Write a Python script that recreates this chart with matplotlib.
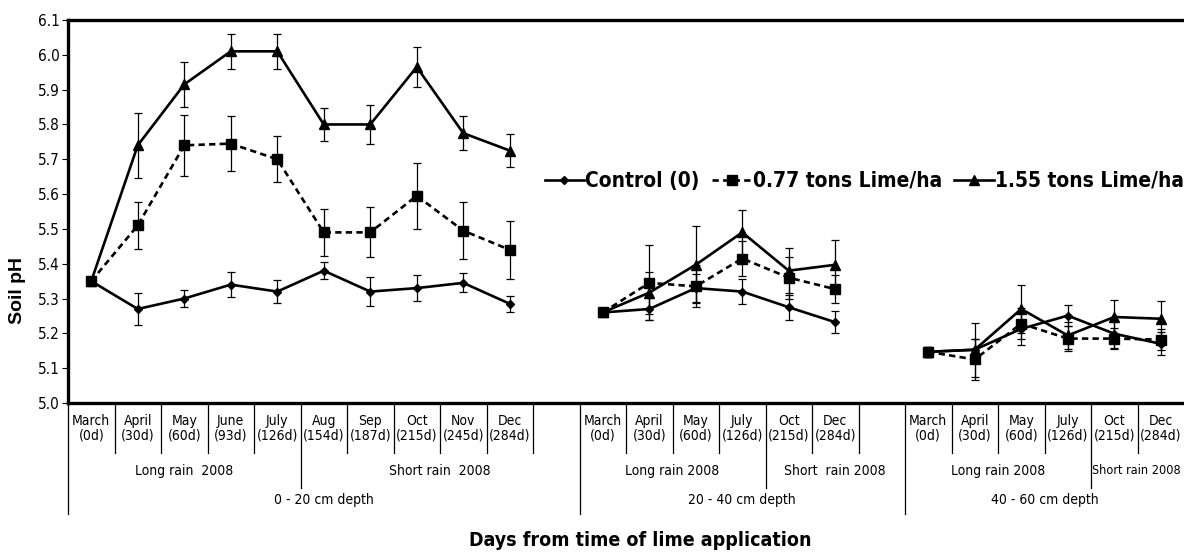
import numpy as np
import matplotlib
matplotlib.use("Agg")
import matplotlib.pyplot as plt
from matplotlib.transforms import blended_transform_factory

narrow = ['DejaVu Sans']
plt.rcParams['font.family'] = narrow
plt.rcParams['font.stretch'] = 'condensed'

# ---- data ----
months_0_20 = ["March\n(0d)", "April\n(30d)", "May\n(60d)", "June\n(93d)", "July\n(126d)",
               "Aug\n(154d)", "Sep\n(187d)", "Oct\n(215d)", "Nov\n(245d)", "Dec\n(284d)"]
months_short = ["March\n(0d)", "April\n(30d)", "May\n(60d)", "July\n(126d)", "Oct\n(215d)", "Dec\n(284d)"]

control_0_20 = [5.35, 5.27, 5.30, 5.34, 5.32, 5.38, 5.32, 5.33, 5.345, 5.285]
control_0_20_err = [0.01, 0.045, 0.025, 0.035, 0.033, 0.025, 0.042, 0.038, 0.027, 0.023]
lime077_0_20 = [5.35, 5.51, 5.74, 5.745, 5.70, 5.49, 5.49, 5.595, 5.495, 5.44]
lime077_0_20_err = [0.01, 0.068, 0.088, 0.08, 0.066, 0.068, 0.072, 0.095, 0.082, 0.083]
lime155_0_20 = [5.35, 5.74, 5.915, 6.01, 6.01, 5.80, 5.80, 5.965, 5.775, 5.725]
lime155_0_20_err = [0.01, 0.093, 0.065, 0.05, 0.05, 0.048, 0.055, 0.058, 0.048, 0.048]

control_20_40 = [5.26, 5.27, 5.33, 5.32, 5.275, 5.232]
control_20_40_err = [0.01, 0.033, 0.04, 0.037, 0.036, 0.032]
lime077_20_40 = [5.26, 5.345, 5.335, 5.415, 5.36, 5.327]
lime077_20_40_err = [0.01, 0.108, 0.06, 0.05, 0.06, 0.04]
lime155_20_40 = [5.26, 5.317, 5.397, 5.49, 5.38, 5.397]
lime155_20_40_err = [0.01, 0.06, 0.11, 0.065, 0.065, 0.07]

control_40_60 = [5.147, 5.153, 5.213, 5.251, 5.199, 5.17]
control_40_60_err = [0.015, 0.03, 0.045, 0.03, 0.04, 0.033]
lime077_40_60 = [5.147, 5.125, 5.228, 5.185, 5.185, 5.182]
lime077_40_60_err = [0.015, 0.06, 0.045, 0.035, 0.03, 0.03]
lime155_40_60 = [5.147, 5.153, 5.27, 5.194, 5.247, 5.242]
lime155_40_60_err = [0.015, 0.078, 0.07, 0.04, 0.05, 0.05]

depth_labels = ["0 - 20 cm depth", "20 - 40 cm depth", "40 - 60 cm depth"]
rain_labels = ["Long rain  2008", "Short rain  2008", "Long rain 2008", "Short  rain 2008",
               "Long rain 2008", "Short rain 2008"]

# slot layout: 11 slots + 7 slots + 6 slots
x_0_20 = np.arange(10) + 0.5
x_20_40 = np.arange(11, 17) + 0.5
x_40_60 = np.arange(18, 24) + 0.5

W, H = 1184, 553
fig = plt.figure(figsize=(W / 100, H / 100), dpi=100)
ax = fig.add_axes([68 / W, 1 - 403 / H, 1 - 68 / W, (403 - 20) / H])

styles = [
    ("Control (0)", dict(marker='D', markersize=4.5, linestyle='-')),
    ("0.77 tons Lime/ha", dict(marker='s', markersize=6.8, linestyle=(0, (2.4, 1.6)))),
    ("1.55 tons Lime/ha", dict(marker='^', markersize=6.8, linestyle='-')),
]
panels = [
    (x_0_20, [control_0_20, lime077_0_20, lime155_0_20],
     [control_0_20_err, lime077_0_20_err, lime155_0_20_err]),
    (x_20_40, [control_20_40, lime077_20_40, lime155_20_40],
     [control_20_40_err, lime077_20_40_err, lime155_20_40_err]),
    (x_40_60, [control_40_60, lime077_40_60, lime155_40_60],
     [control_40_60_err, lime077_40_60_err, lime155_40_60_err]),
]

for p, (xs, ys, errs) in enumerate(panels):
    for (name, st), y, e in zip(styles, ys, errs):
        ax.errorbar(xs, y, yerr=e, fmt='none', ecolor='black', elinewidth=0.9,
                    capsize=3.2, capthick=0.9, zorder=2)
        ax.plot(xs, y, color='black', lw=1.9, zorder=3,
                label=name if p == 0 else None, **st)

ax.set_xlim(0, 24)
ax.set_ylim(5.0, 6.1)
ax.set_yticks(np.round(np.arange(5.0, 6.11, 0.1), 1))
ax.set_yticklabels([f"{v:.1f}" for v in np.arange(5.0, 6.11, 0.1)], fontsize=11)
ax.set_xticks([])
ax.tick_params(axis='y', direction='out', length=4, width=0.8, pad=2)
for s in ['left', 'bottom', 'top']:
    ax.spines[s].set_linewidth(2.4)
ax.spines['right'].set_visible(False)

leg = ax.legend(ncol=3, loc='center right', bbox_to_anchor=(1.0, (403 - 181) / 383),
                frameon=False, handlelength=1.9, handletextpad=0.05,
                columnspacing=0.6, borderaxespad=0, borderpad=0,
                prop={'family': narrow, 'stretch': 'condensed', 'weight': 'bold', 'size': 15})

# ---- table below the axis ----
tr = blended_transform_factory(ax.transData, fig.transFigure)


def fy(py):
    return 1 - py / H


def vline(x, y_end):
    ax.plot([x, x], [fy(403), fy(y_end)], color='black', lw=0.9,
            transform=tr, clip_on=False)


short_div = 453
rain_div = 488
depth_div = 514

depth_bounds = [0, 11, 18]
rain_bounds = [5, 15, 22]
for b in range(0, 24):
    if b in depth_bounds:
        vline(b, depth_div)
    elif b in rain_bounds:
        vline(b, rain_div)
    else:
        vline(b, short_div)

for xs, labs in [(x_0_20, months_0_20), (x_20_40, months_short), (x_40_60, months_short)]:
    for x, lab in zip(xs, labs):
        ax.text(x, fy(428), lab, transform=tr, ha='center', va='center',
                fontsize=10, linespacing=1.05)

rain_centers = [2.5, 8.0, 13.0, 16.5, 20.0]
for x, lab in zip(rain_centers, rain_labels[:5]):
    ax.text(x, fy(471), lab, transform=tr, ha='center', va='center', fontsize=10)
# last one sits right against the divider, like the original
ax.text(22.03, fy(471), rain_labels[5], transform=tr, ha='left', va='center', fontsize=9.1)

for x, lab in zip([5.5, 14.5, 21.0], depth_labels):
    ax.text(x, fy(500), lab, transform=tr, ha='center', va='center', fontsize=10)

fig.text(18 / W, fy(290), "Soil pH", rotation=90, ha='center', va='center',
         fontsize=14, fontweight='bold', family=['Liberation Sans', 'DejaVu Sans'])
fig.text(640 / W, fy(541), "Days from time of lime application", ha='center', va='center',
         fontsize=14, fontweight='bold')

fig.savefig("out.png", dpi=100)
